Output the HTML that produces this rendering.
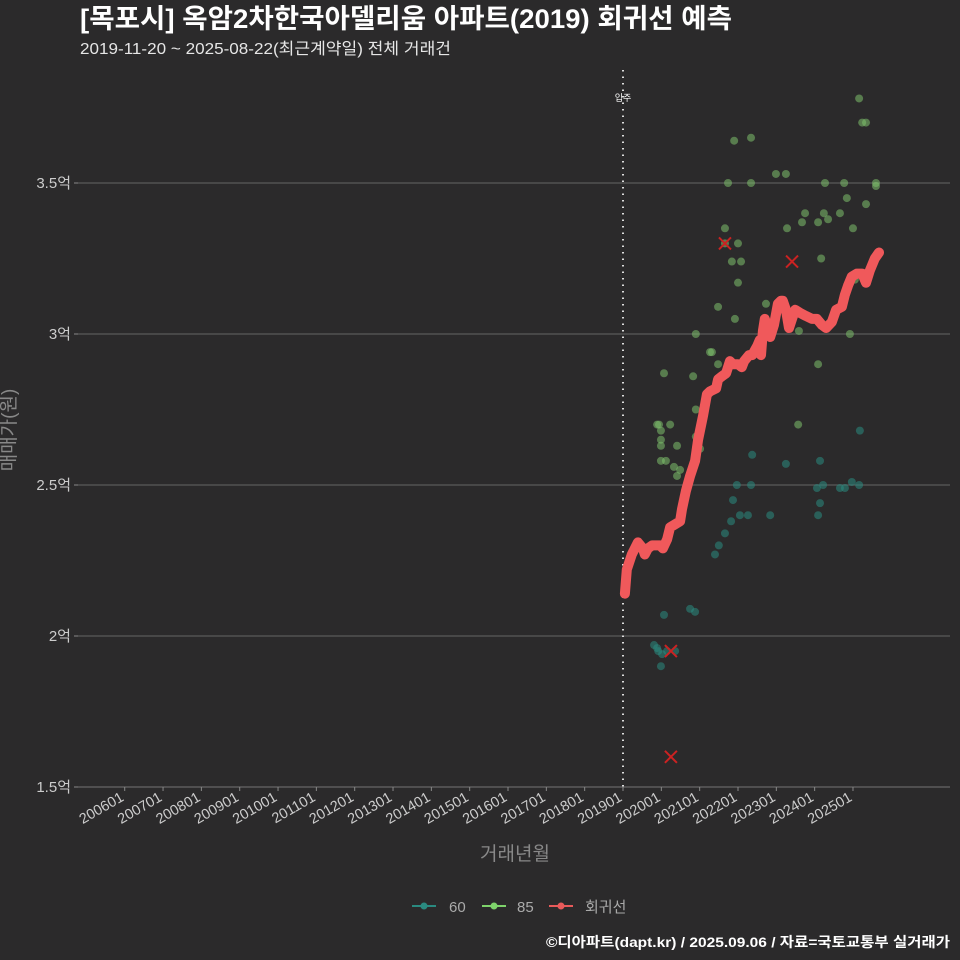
<!DOCTYPE html>
<html><head><meta charset="utf-8"><style>
html,body{margin:0;padding:0;background:#2b2a2b;}
svg{display:block;font-family:"Liberation Sans","Noto Sans CJK KR",sans-serif;}
</style></head><body>
<svg id="chart" width="960" height="960" viewBox="0 0 960 960" xmlns="http://www.w3.org/2000/svg">
<rect width="960" height="960" fill="#2b2a2b"/>
<text x="80" y="28" fill="#ffffff" font-size="27" font-weight="bold" textLength="652" lengthAdjust="spacingAndGlyphs">[목포시] 옥암2차한국아델리움 아파트(2019) 회귀선 예측</text>
<text x="80" y="54" fill="#e6e6e6" font-size="16" textLength="371" lengthAdjust="spacingAndGlyphs">2019-11-20 ~ 2025-08-22(최근계약일) 전체 거래건</text>
<g id="grid"></g>
<g id="xaxis"></g>
<g id="yaxis"></g>
<g id="marks"></g>
<text x="15" y="430" fill="#888" font-size="19" text-anchor="middle" transform="rotate(-90 15 430)">매매가(원)</text>
<text x="515" y="860" fill="#888" font-size="19" text-anchor="middle">거래년월</text>
<g>
<g><line x1="412" y1="906" x2="436" y2="906" stroke="#2a8a80" stroke-width="2"/><circle cx="424" cy="906" r="3.5" fill="#2a8a80"/><text x="449" y="912" fill="#aaa" font-size="15">60</text></g>
<g><line x1="482" y1="906" x2="506" y2="906" stroke="#7ed36b" stroke-width="2"/><circle cx="494" cy="906" r="3.5" fill="#7ed36b"/><text x="517" y="912" fill="#aaa" font-size="15">85</text></g>
<g><line x1="549" y1="906" x2="573" y2="906" stroke="#e85a5a" stroke-width="2"/><circle cx="561" cy="906" r="3.5" fill="#e85a5a"/><text x="585" y="912" fill="#aaa" font-size="15">회귀선</text></g>
</g>
<text x="950" y="947" fill="#ffffff" font-size="14" font-weight="bold" text-anchor="end" textLength="404" lengthAdjust="spacingAndGlyphs">©디아파트(dapt.kr) / 2025.09.06 / 자료=국토교통부 실거래가</text>
<script>
const yTicks=[1.5,2,2.5,3,3.5];
const yTickLabels=["1.5억","2억","2.5억","3억","3.5억"];
const xTickYears=[2006,2007,2008,2009,2010,2011,2012,2013,2014,2015,2016,2017,2018,2019,2020,2021,2022,2023,2024,2025];
const xTickLabels=["200601","200701","200801","200901","201001","201101","201201","201301","201401","201501","201601","201701","201801","201901","202001","202101","202201","202301","202401","202501"];
const moveInYear=2019;
const g85X=[2025.16,2025.24,2025.34,2021.90,2022.34,2021.74,2022.34,2022.99,2023.25,2024.27,2024.77,2025.60,2025.60,2024.84,2025.34,2023.75,2024.24,2024.66,2023.67,2024.09,2024.35,2023.28,2025.00,2021.66,2022.00,2021.66,2021.84,2022.08,2024.17,2022.00,2025.05,2021.48,2022.73,2021.92,2023.59,2020.90,2024.92,2021.32,2021.27,2021.48,2024.09,2020.83,2020.07,2023.57,2019.89,2019.94,2020.23,2019.99,2019.99,2019.99,2020.41,2020.90,2020.90,2020.12,2019.99,2020.33,2020.49,2020.41,2021.01];
const g85Y=[3.78,3.70,3.70,3.64,3.65,3.50,3.50,3.53,3.53,3.50,3.50,3.50,3.49,3.45,3.43,3.40,3.40,3.40,3.37,3.37,3.38,3.35,3.35,3.35,3.30,3.30,3.24,3.24,3.25,3.17,3.18,3.09,3.10,3.05,3.01,3.00,3.00,2.94,2.94,2.90,2.90,2.86,2.87,2.70,2.70,2.70,2.70,2.68,2.65,2.63,2.63,2.75,2.66,2.58,2.58,2.56,2.55,2.53,2.62];
const g60X=[2022.37,2021.97,2022.34,2021.87,2021.82,2021.50,2021.40,2021.66,2022.05,2022.26,2022.84,2023.25,2024.14,2024.22,2024.06,2024.14,2024.09,2024.79,2024.66,2024.97,2025.16,2025.18,2020.75,2020.88,2020.07,2019.81,2019.89,2019.92,2020.02,2020.15,2020.36,2019.99];
const g60Y=[2.60,2.50,2.50,2.45,2.38,2.30,2.27,2.34,2.40,2.40,2.40,2.57,2.58,2.50,2.49,2.44,2.40,2.49,2.49,2.51,2.50,2.68,2.09,2.08,2.07,1.97,1.96,1.95,1.94,1.95,1.95,1.90];
const outX=[2021.66,2023.41,2020.25,2020.25];
const outY=[3.30,3.24,1.95,1.60];
const regX=[2019.05,2019.10,2019.23,2019.39,2019.52,2019.57,2019.65,2019.76,2019.97,2020.04,2020.15,2020.23,2020.36,2020.49,2020.54,2020.64,2020.75,2020.88,2020.96,2021.09,2021.19,2021.27,2021.43,2021.48,2021.58,2021.69,2021.79,2021.87,2022.00,2022.10,2022.16,2022.29,2022.37,2022.50,2022.57,2022.60,2022.65,2022.70,2022.84,2022.94,2023.04,2023.12,2023.17,2023.25,2023.33,2023.41,2023.49,2023.62,2023.77,2023.93,2024.06,2024.19,2024.30,2024.45,2024.56,2024.71,2024.79,2024.87,2024.97,2025.10,2025.24,2025.34,2025.44,2025.57,2025.68];
const regY=[2.14,2.22,2.27,2.31,2.29,2.27,2.29,2.30,2.30,2.29,2.32,2.36,2.37,2.38,2.42,2.48,2.53,2.58,2.65,2.73,2.80,2.81,2.82,2.85,2.86,2.87,2.91,2.90,2.90,2.89,2.91,2.93,2.93,2.96,2.98,2.93,3.01,3.05,2.99,3.03,3.10,3.11,3.11,3.08,3.02,3.05,3.08,3.07,3.06,3.05,3.05,3.03,3.02,3.04,3.08,3.09,3.13,3.16,3.19,3.20,3.20,3.17,3.21,3.25,3.27];

const NS="http://www.w3.org/2000/svg";
const xs=yr=>623+(yr-2019)*38.33;
const ys=v=>787-(v-1.5)*302;
function mk(tag,attrs,parent){const e=document.createElementNS(NS,tag);for(const k in attrs)e.setAttribute(k,attrs[k]);parent.appendChild(e);return e;}
const grid=document.getElementById('grid'),xa=document.getElementById('xaxis'),ya=document.getElementById('yaxis'),mg=document.getElementById('marks');
yTicks.forEach((v,i)=>{
  const l=mk('line',{x1:78,x2:950,y1:ys(v),y2:ys(v),stroke:i===0?'#666':'#5a5a5a','stroke-width':1.2},grid);
  
  
  mk('line',{x1:74,x2:78,y1:ys(v),y2:ys(v),stroke:'#888'},ya);
  const t=mk('text',{x:71,y:ys(v)+5,fill:'#cccccc','font-size':15,'text-anchor':'end'},ya);
  t.textContent=yTickLabels[i];
  
  
});
xTickYears.forEach((yr,i)=>{
  const x=xs(yr);
  mk('line',{x1:x,x2:x,y1:787,y2:791,stroke:'#888'},xa);
  const t=mk('text',{x:x,y:800,fill:'#cccccc','font-size':14.5,'text-anchor':'end',transform:`rotate(-30 ${x} 800)`},xa);
  t.textContent=xTickLabels[i];
  
  
});
const mv=mk('line',{x1:xs(moveInYear),x2:xs(moveInYear),y1:70,y2:787,stroke:'#dddddd','stroke-width':2,'stroke-dasharray':'1.5 5'},mg);


const mt=mk('text',{x:xs(moveInYear),y:101,fill:'#ffffff','font-size':9,'text-anchor':'middle'},mg);
mt.textContent='입주';


g60X.forEach((x,i)=>{
  const c=mk('circle',{cx:xs(x),cy:ys(g60Y[i]),r:4,fill:'#2a8a80','fill-opacity':0.55},mg);
  
  
});
g85X.forEach((x,i)=>{
  const c=mk('circle',{cx:xs(x),cy:ys(g85Y[i]),r:4,fill:'#7ec06b','fill-opacity':0.55},mg);
  
  
});
outX.forEach((x,i)=>{
  const cx=xs(x),cy=ys(outY[i]);
  const p=mk('path',{d:`M${cx-6} ${cy-6}L${cx+6} ${cy+6}M${cx+6} ${cy-6}L${cx-6} ${cy+6}`,stroke:'#cc2222','stroke-width':2},mg);
  
  
});
const d=regX.map((x,i)=>(i?'L':'M')+xs(x).toFixed(1)+' '+ys(regY[i]).toFixed(1)).join('');
const rl=mk('path',{d:d,fill:'none',stroke:'#f0595b','stroke-width':10,'stroke-linejoin':'round','stroke-linecap':'round'},mg);


</script>
</svg>
</body></html>
